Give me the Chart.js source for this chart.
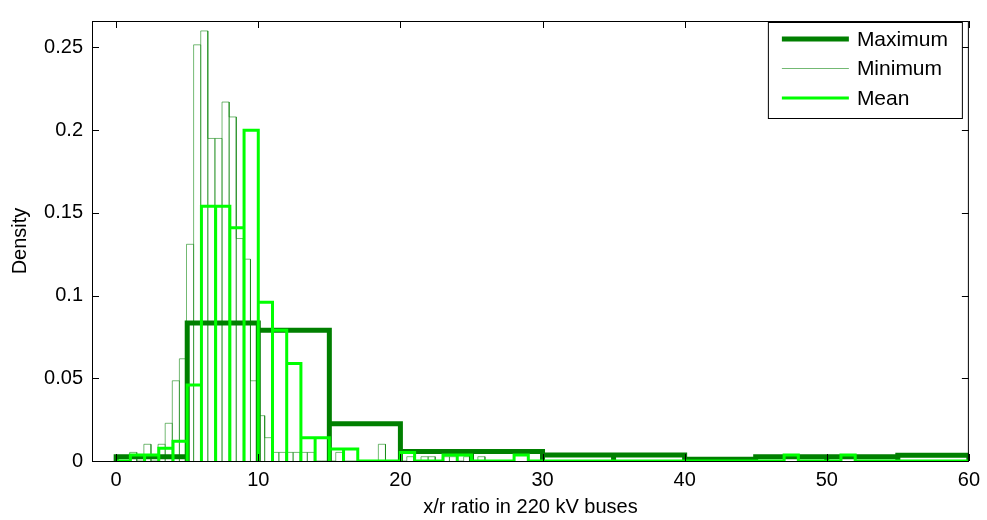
<!DOCTYPE html>
<html>
<head>
<meta charset="utf-8">
<script src="https://cdn.jsdelivr.net/npm/chart.js@4.4.1/dist/chart.umd.min.js"></script>
<style>
  body { margin: 0; background: #fff; }
  canvas { display: block; }
</style>
</head>
<body>
<canvas id="chart_hist" width="987" height="520"></canvas>
<script>
// histogram bins (left..right edges) and densities
const maxEdges = [0, 5, 10, 15, 20, 25, 30, 35, 40, 45, 50, 55, 60];
const maxDensity = [0.0026, 0.0835, 0.079, 0.0225, 0.0057, 0.0057, 0.0037, 0.0037, 0.001, 0.0025, 0.0025, 0.0035];

const minEdges = [0.95, 1.45, 1.95, 2.45, 2.95, 3.45, 3.95, 4.45, 4.95, 5.45, 5.95, 6.45, 6.95, 7.45, 7.95, 8.45, 8.95, 9.45, 9.95,
    10.45, 10.95, 11.45, 11.95, 12.45, 12.95, 13.45, 13.95, 14.45, 14.95, 15.45, 15.95, 16.45, 16.95, 17.45, 17.95, 18.45,
    18.95, 19.45, 19.95, 20.45, 20.95, 21.45, 21.95, 22.45, 22.95, 23.45, 23.95, 24.45, 24.95, 25.45, 25.95, 26.45];
const minDensity = [0.0052, 0, 0.0101, 0, 0.0101, 0.0228, 0.0485, 0.0618, 0.131, 0.2516, 0.26, 0.195, 0.195, 0.217, 0.208,
    0.1345, 0.122, 0.0485, 0.0274, 0.0141, 0.0052, 0.0052, 0.0052, 0.0052, 0.0052, 0.0052, 0, 0, 0, 0.0052, 0, 0, 0, 0, 0,
    0.0101, 0, 0, 0, 0.0026, 0, 0.0026, 0.0026, 0, 0.0026, 0.0026, 0, 0.0026, 0, 0.0026, 0];

const meanEdges = [0, 1, 2, 3, 4, 5, 6, 7, 8, 9, 10, 11, 12, 13, 14, 15, 16, 17, 18, 19, 20, 21, 22, 23, 24, 25, 26, 27, 28, 29,
    30, 31, 32, 33, 34, 35, 36, 37, 38, 39, 40, 41, 42, 43, 44, 45, 46, 47, 48, 49, 50, 51, 52, 53, 54, 55, 56, 57, 58, 59, 60];
const meanDensity = [0, 0.0036, 0.0036, 0.0077, 0.012, 0.046, 0.154, 0.154, 0.141, 0.2, 0.096, 0.079, 0.059, 0.014, 0.014,
    0.0072, 0.0072, 0, 0, 0, 0.0052, 0, 0, 0.0036, 0.0036, 0, 0, 0, 0.0036, 0, 0, 0, 0, 0, 0, 0, 0, 0, 0, 0,
    0, 0, 0, 0, 0, 0, 0, 0.0036, 0, 0, 0, 0.0036, 0, 0, 0, 0, 0, 0, 0, 0];

const xTicks = [0, 10, 20, 30, 40, 50, 60];
const yTicks = [0, 0.05, 0.1, 0.15, 0.2, 0.25];
const yTickLabels = ['0', '0.05', '0.1', '0.15', '0.2', '0.25'];

const FONT = "'Liberation Sans', Arial, sans-serif";

// outline of every bar (MATLAB style), bottom edges sit on zero
function histPath(edges, dens) {
    const pts = [{x: edges[0], y: 0}];
    for (let i = 0; i < dens.length; i++) {
        pts.push({x: edges[i], y: dens[i]});
        pts.push({x: edges[i + 1], y: dens[i]});
        pts.push({x: edges[i + 1], y: 0});
    }
    return pts;
}

// box round the axes with inward ticks, plus the legend
const matlabBox = {
    id: 'matlabBox',
    afterDatasetsDraw(chart) {
        const {ctx, chartArea: a, scales} = chart;
        ctx.save();
        ctx.strokeStyle = '#000';
        ctx.lineWidth = 1;
        ctx.strokeRect(a.left + 0.5, a.top + 0.5, a.right - a.left - 1, a.bottom - a.top);
        ctx.beginPath();
        xTicks.forEach(v => {
            const px = Math.round(scales.x.getPixelForValue(v)) + 0.5;
            ctx.moveTo(px, a.bottom); ctx.lineTo(px, a.bottom - 7);
            ctx.moveTo(px, a.top); ctx.lineTo(px, a.top + 7);
        });
        yTicks.forEach(v => {
            const py = Math.round(scales.y.getPixelForValue(v)) + 0.5;
            ctx.moveTo(a.left, py); ctx.lineTo(a.left + 7, py);
            ctx.moveTo(a.right, py); ctx.lineTo(a.right - 7, py);
        });
        ctx.stroke();
        ctx.restore();
    },
    afterDraw(chart) {
        const {ctx, chartArea: a} = chart;
        const right = a.right - 7, top = a.top + 1;
        const left = right - 194, bottom = top + 96;
        ctx.save();
        ctx.fillStyle = '#fff';
        ctx.fillRect(left, top, right - left, bottom - top);
        ctx.strokeStyle = '#000';
        ctx.lineWidth = 1;
        ctx.strokeRect(left + 0.5, top + 0.5, right - left, bottom - top);
        ctx.font = '21px ' + FONT;
        ctx.textBaseline = 'middle';
        ctx.fillStyle = '#000';
        chart.data.datasets.forEach((ds, i) => {
            const y = top + 17 + i * 29.5;
            ctx.beginPath();
            ctx.strokeStyle = ds.borderColor;
            ctx.lineWidth = ds.borderWidth;
            ctx.moveTo(left + 14, y);
            ctx.lineTo(left + 81, y);
            ctx.stroke();
            ctx.fillText(ds.label, left + 89, y + 1);
        });
        ctx.restore();
    }
};

const ctx = document.getElementById('chart_hist').getContext('2d');
const histChart = new Chart(ctx, {
    type: 'line',
    data: {
        datasets: [
            {label: 'Maximum', data: histPath(maxEdges, maxDensity), borderColor: '#007f00', borderWidth: 5, order: 3},
            {label: 'Minimum', data: histPath(minEdges, minDensity), borderColor: 'rgba(0, 128, 0, 0.55)', borderWidth: 1, order: 2},
            {label: 'Mean', data: histPath(meanEdges, meanDensity), borderColor: '#00ff00', borderWidth: 3, order: 1}
        ]
    },
    options: {
        responsive: false,
        animation: false,
        devicePixelRatio: 1,
        layout: {padding: {top: 20, right: 18, left: 0, bottom: 0}},
        elements: {
            point: {radius: 0},
            line: {tension: 0, fill: false, borderJoinStyle: 'miter', borderCapStyle: 'butt'}
        },
        plugins: {legend: {display: false}, tooltip: {enabled: false}},
        scales: {
            x: {
                type: 'linear',
                min: -1.7,
                max: 60,
                afterBuildTicks: s => { s.ticks = xTicks.map(v => ({value: v})); },
                afterFit: s => { s.height = 59; },
                grid: {display: false, drawTicks: false},
                border: {display: false},
                ticks: {color: '#000', font: {family: FONT, size: 20}, padding: 7, maxRotation: 0},
                title: {display: true, text: 'x/r ratio in 220 kV buses', color: '#000',
                        font: {family: FONT, size: 20}, padding: {top: 0, bottom: 1}}
            },
            y: {
                min: 0,
                max: 0.266,
                afterBuildTicks: s => { s.ticks = yTicks.map(v => ({value: v})); },
                afterFit: s => { s.width = 92; },
                grid: {display: false, drawTicks: false},
                border: {display: false},
                ticks: {color: '#000', font: {family: FONT, size: 20}, padding: 9,
                        callback: (v, i) => yTickLabels[i]},
                title: {display: true, text: 'Density', color: '#000',
                        font: {family: FONT, size: 20}, padding: {top: 8, bottom: 0}}
            }
        }
    },
    plugins: [matlabBox]
});
</script>
</body>
</html>
